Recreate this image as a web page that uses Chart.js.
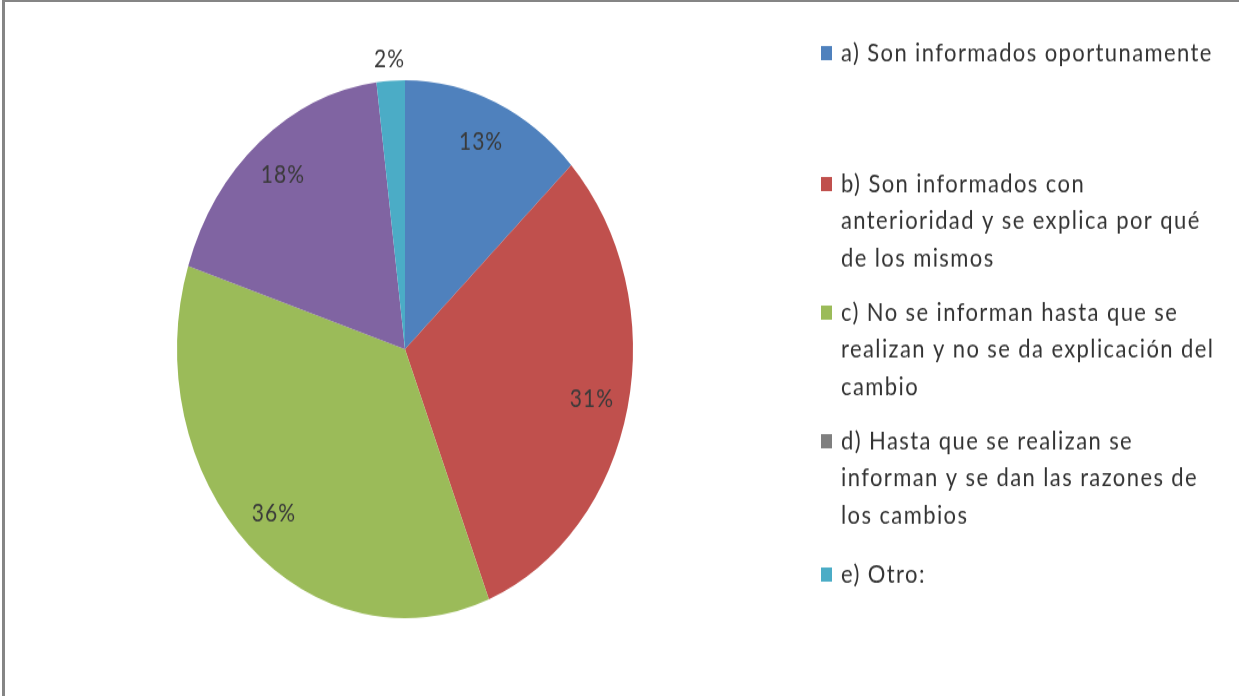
<!DOCTYPE html>
<html lang="es">
<head>
<meta charset="utf-8">
<title>Cambios</title>
<script src="https://cdn.jsdelivr.net/npm/chart.js@4.4.0/dist/chart.umd.min.js"></script>
<style>
  html, body { margin: 0; padding: 0; background: #fff; }
  #frame {
    position: relative; width: 1239px; height: 696px; overflow: hidden;
    box-sizing: border-box; border-top: 2px solid #858585; border-left: 3px solid #858585;
    margin-left: 2px;
  }
  /* el gráfico va algo estirado en vertical */
  #wrap { position: absolute; left: -5px; top: -2px; width: 1239px; height: 590px;
          transform: scaleY(1.1797); transform-origin: 0 0; }
</style>
</head>
<body>
<div id="frame"><div id="wrap"><canvas id="chart" width="1239" height="590"></canvas></div></div>
<script>
  // ===== Datos =====
  const categories = [
    'a) Son informados oportunamente',
    'b) Son informados con anterioridad y se explica por qué de los mismos',
    'c) No se informan hasta que se realizan y no se da explicación del cambio',
    'd) Hasta que se realizan se informan y se dan las razones de los cambios',
    'e) Otro:'
  ];
  // texto de la leyenda ya partido en renglones
  const legendLines = [
    ['a) Son informados oportunamente'],
    ['b) Son informados con', 'anterioridad y se explica por qué', 'de los mismos'],
    ['c) No se informan hasta que se', 'realizan y no se da explicación del', 'cambio'],
    ['d) Hasta que se realizan se', 'informan y se dan las razones de', 'los cambios'],
    ['e) Otro:']
  ];
  const percents = [13, 31, 36, 18, 2];
  const sliceColors = ['#4F81BD', '#C0504D', '#9BBB59', '#8064A2', '#4BACC6'];
  const markerColors = ['#4F81BD', '#C0504D', '#9BBB59', '#7F7F7F', '#4BACC6'];

  const FONT = '"Lato", "Liberation Sans", sans-serif';

  // ===== Etiquetas de porcentaje =====
  const pctLabels = {
    id: 'pctLabels',
    afterDatasetsDraw(chart) {
      const ctx = chart.ctx;
      const arcs = chart.getDatasetMeta(0).data;
      ctx.save();
      ctx.font = '21px ' + FONT;
      ctx.letterSpacing = '1px';
      ctx.fillStyle = '#3a3a3a';
      ctx.textAlign = 'center';
      ctx.textBaseline = 'middle';
      arcs.forEach((arc, i) => {
        const { x, y, startAngle, endAngle, outerRadius } = arc.getProps(['x','y','startAngle','endAngle','outerRadius'], true);
        const mid = (startAngle + endAngle) / 2;
        const r = percents[i] < 5 ? outerRadius + 18 : outerRadius * 0.84;
        ctx.fillText(percents[i] + '%', x + Math.cos(mid) * r, y + Math.sin(mid) * r);
      });
      ctx.restore();
    }
  };

  // ===== Leyenda a la derecha =====
  const sideLegend = {
    id: 'sideLegend',
    afterDraw(chart, args, opts) {
      const ctx = chart.ctx;
      ctx.save();
      ctx.font = opts.fontSize + 'px ' + FONT;
      ctx.letterSpacing = opts.spacing;
      ctx.textBaseline = 'middle';
      legendLines.forEach((lines, i) => {
        const top = opts.rowY[i];
        ctx.fillStyle = markerColors[i];
        ctx.fillRect(opts.x, top - 6, 11, 12);
        ctx.fillStyle = '#333';
        lines.forEach((ln, k) => ctx.fillText(ln, opts.x + 20, top + k * opts.lineH));
      });
      ctx.restore();
    }
  };

  new Chart(document.getElementById('chart'), {
    type: 'pie',
    data: {
      labels: categories,
      datasets: [{ data: percents, backgroundColor: sliceColors, borderWidth: 0 }]
    },
    options: {
      responsive: false,
      animation: false,
      layout: { padding: { left: 177, right: 606, top: 68, bottom: 66 } },
      plugins: {
        legend: { display: false },
        tooltip: { enabled: false },
        sideLegend: { x: 821, fontSize: 22, spacing: '1.4px', lineH: 31.4, rowY: [45, 156, 265, 374, 487] }
      }
    },
    plugins: [pctLabels, sideLegend]
  });
</script>
</body>
</html>
